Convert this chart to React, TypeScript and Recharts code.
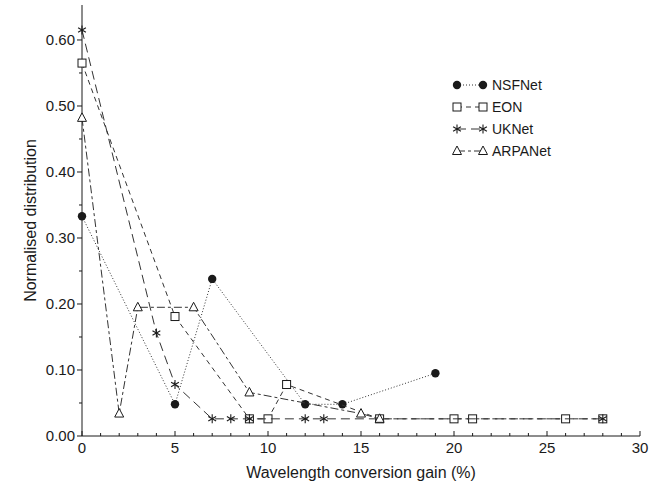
import { ScatterChart, Scatter, XAxis, YAxis, Legend } from "recharts";

const nsfX = [0, 5, 7, 12, 14, 19];
const nsfY = [0.333, 0.048, 0.238, 0.048, 0.048, 0.095];
const eonX = [0, 5, 9, 10, 11, 16, 20, 21, 26, 28];
const eonY = [0.565, 0.181, 0.026, 0.026, 0.078, 0.026, 0.026, 0.026, 0.026, 0.026];
const ukX = [0, 4, 5, 7, 8, 9, 12, 13, 28];
const ukY = [0.615, 0.156, 0.078, 0.026, 0.026, 0.026, 0.026, 0.026, 0.026];
const arpX = [0, 2, 3, 6, 9, 15, 16];
const arpY = [0.482, 0.034, 0.195, 0.195, 0.066, 0.034, 0.026];

const xTicks = [0, 1, 2, 3, 4, 5, 6, 7, 8, 9, 10, 11, 12, 13, 14, 15, 16, 17, 18, 19, 20, 21, 22, 23, 24, 25, 26, 27, 28, 29, 30];
const yTicks = [0, 0.05, 0.1, 0.15, 0.2, 0.25, 0.3, 0.35, 0.4, 0.45, 0.5, 0.55, 0.6];

const toPoints = (xs: number[], ys: number[]) => xs.map((x, i) => ({ x, y: ys[i] }));

const INK = "#1a1a1a";
const LINE = "#333";
const FONT = "'Liberation Sans', Arial, sans-serif";

type Kind = "circle" | "square" | "star" | "triangle";

const SERIES: { name: string; kind: Kind; dash: string; data: { x: number; y: number }[] }[] = [
  { name: "NSFNet", kind: "circle", dash: "1 2", data: toPoints(nsfX, nsfY) },
  { name: "EON", kind: "square", dash: "5 4", data: toPoints(eonX, eonY) },
  { name: "UKNet", kind: "star", dash: "9 5", data: toPoints(ukX, ukY) },
  { name: "ARPANet", kind: "triangle", dash: "8 3 3 3", data: toPoints(arpX, arpY) },
];

function Marker({ kind, cx, cy }: { kind: Kind; cx: number; cy: number }) {
  if (kind === "circle") return <circle cx={cx} cy={cy} r={4.2} fill={INK} />;
  if (kind === "square")
    return <rect x={cx - 4} y={cy - 4} width={8} height={8} fill="#fff" stroke={INK} strokeWidth={1} />;
  if (kind === "triangle")
    return (
      <polygon
        points={`${cx},${cy - 5} ${cx + 4.5},${cy + 3.5} ${cx - 4.5},${cy + 3.5}`}
        fill="#fff"
        stroke={INK}
        strokeWidth={1}
      />
    );
  const r = 4.5;
  return (
    <g stroke={INK} strokeWidth={1.1}>
      <line x1={cx} y1={cy - r} x2={cx} y2={cy + r} />
      <line x1={cx - r * 0.87} y1={cy - r / 2} x2={cx + r * 0.87} y2={cy + r / 2} />
      <line x1={cx - r * 0.87} y1={cy + r / 2} x2={cx + r * 0.87} y2={cy - r / 2} />
    </g>
  );
}

function XTick(props: any) {
  const { x, y, payload } = props;
  const major = payload.value % 5 === 0;
  return (
    <g>
      <line x1={x} y1={y} x2={x} y2={y - (major ? 5 : 3)} stroke={INK} strokeWidth={1} />
      {major && (
        <text x={x} y={y + 17} textAnchor="middle" fontSize={15} fontFamily={FONT} fill={INK}>
          {payload.value}
        </text>
      )}
    </g>
  );
}

function YTick(props: any) {
  const { x, y, payload } = props;
  const major = Math.round(payload.value * 100) % 10 === 0;
  return (
    <g>
      <line x1={x} y1={y} x2={x - (major ? 5 : 3)} y2={y} stroke={INK} strokeWidth={1} />
      {major && (
        <text x={x - 7} y={y} dy="0.35em" textAnchor="end" fontSize={15} fontFamily={FONT} fill={INK}>
          {payload.value.toFixed(2)}
        </text>
      )}
    </g>
  );
}

function LegendBox() {
  return (
    <div style={{ fontFamily: FONT, fontSize: 14, color: INK }}>
      {SERIES.map((s) => (
        <div key={s.name} style={{ display: "flex", alignItems: "center", height: 22 }}>
          <svg width={38} height={14} style={{ marginRight: 2 }}>
            <line x1={5} y1={7} x2={31} y2={7} stroke={LINE} strokeWidth={1} strokeDasharray={s.dash} />
            <Marker kind={s.kind} cx={5} cy={7} />
            <Marker kind={s.kind} cx={31} cy={7} />
          </svg>
          <span>{s.name}</span>
        </div>
      ))}
    </div>
  );
}

export default function App() {
  return (
    <div style={{ position: "absolute", left: 0, top: 0, width: 660, height: 484, background: "#fff" }}>
      <ScatterChart width={660} height={484} margin={{ top: 5, right: 20, bottom: 0, left: 0 }}>
        <XAxis
          type="number"
          dataKey="x"
          domain={[0, 30]}
          ticks={xTicks}
          interval={0}
          tickSize={0}
          tickMargin={0}
          tickLine={false}
          axisLine={{ stroke: INK }}
          tick={XTick}
          height={48}
          label={{
            value: "Wavelength conversion gain (%)",
            position: "insideBottom",
            offset: 6,
            fontSize: 16,
            fontFamily: FONT,
            fill: INK,
          }}
        />
        <XAxis xAxisId="top" orientation="top" type="number" domain={[0, 30]} tick={false} tickLine={false} height={0} axisLine={{ stroke: INK }} />
        <YAxis
          type="number"
          dataKey="y"
          domain={[0, 0.653]}
          ticks={yTicks}
          interval={0}
          tickSize={0}
          tickMargin={0}
          tickLine={false}
          axisLine={{ stroke: INK }}
          tick={YTick}
          width={82}
          label={(p: any) => {
            const vb = p.viewBox || { x: 0, y: 5, height: 431 };
            const cx = 30;
            const cy = vb.y + vb.height / 2;
            return (
              <text
                x={cx}
                y={cy}
                transform={`rotate(-90 ${cx} ${cy})`}
                textAnchor="middle"
                dy="0.35em"
                fontSize={16}
                fontFamily={FONT}
                fill={INK}
              >
                Normalised distribution
              </text>
            );
          }}
        />
        <YAxis yAxisId="right" orientation="right" type="number" domain={[0, 0.653]} tick={false} tickLine={false} width={0} axisLine={{ stroke: INK }} />
        {SERIES.map((s) => (
          <Scatter
            key={s.name}
            name={s.name}
            data={s.data}
            isAnimationActive={false}
            line={{ stroke: LINE, strokeWidth: 1, strokeDasharray: s.dash }}
            lineType="joint"
            shape={(p: any) => <Marker kind={s.kind} cx={p.cx} cy={p.cy} />}
          />
        ))}
        <Legend
          layout="vertical"
          align="center"
          verticalAlign="middle"
          wrapperStyle={{ left: 452, top: 74, width: 160 }}
          content={() => <LegendBox />}
        />
      </ScatterChart>
    </div>
  );
}
